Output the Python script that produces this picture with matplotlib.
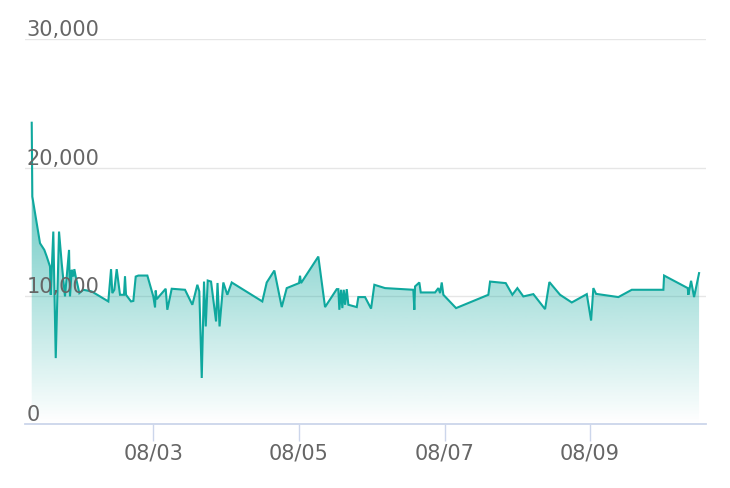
import numpy as np
import pandas as pd
import matplotlib
matplotlib.use('Agg')
import matplotlib.pyplot as plt
import matplotlib.dates as mdates
from matplotlib.colors import to_rgb

# time stamps (month-day hour:minute) and values
times = [
    '08-01 07:55', '08-01 08:07', '08-01 10:39', '08-01 12:04', '08-01 12:52', '08-01 13:57',
    '08-01 14:11', '08-01 15:02', '08-01 15:50', '08-01 16:55', '08-01 17:48', '08-01 18:53',
    '08-01 20:13', '08-01 20:32', '08-01 21:06', '08-01 21:38', '08-01 21:58', '08-01 22:25',
    '08-01 23:37', '08-02 00:55', '08-02 03:41', '08-02 09:10', '08-02 10:04', '08-02 10:29',
    '08-02 11:09', '08-02 11:56', '08-02 13:01', '08-02 14:20', '08-02 14:40', '08-02 15:00',
    '08-02 16:39', '08-02 17:25', '08-02 18:12', '08-02 19:04', '08-02 22:02', '08-03 00:00',
    '08-03 00:34', '08-03 00:47', '08-03 01:07', '08-03 04:05', '08-03 04:37', '08-03 06:04',
    '08-03 10:27', '08-03 12:52', '08-03 14:31', '08-03 15:10', '08-03 15:58', '08-03 16:43',
    '08-03 17:17', '08-03 17:56', '08-03 19:02', '08-03 20:41', '08-03 21:10', '08-03 21:50',
    '08-03 23:05', '08-04 00:24', '08-04 01:51', '08-04 11:56', '08-04 13:23', '08-04 15:54',
    '08-04 18:20', '08-04 19:59', '08-05 00:02', '08-05 00:22', '08-05 00:42', '08-05 06:24',
    '08-05 08:37', '08-05 12:28', '08-05 13:00', '08-05 13:20', '08-05 13:53', '08-05 14:19',
    '08-05 14:47', '08-05 15:13', '08-05 15:46', '08-05 16:18', '08-05 19:04', '08-05 19:35',
    '08-05 21:48', '08-05 23:47', '08-06 00:52', '08-06 04:24', '08-06 13:43', '08-06 14:03',
    '08-06 14:17', '08-06 15:42', '08-06 16:10', '08-06 20:53', '08-06 21:58', '08-06 22:32',
    '08-06 23:05', '08-06 23:37', '08-07 03:48', '08-07 14:27', '08-07 15:01', '08-07 20:11',
    '08-07 22:22', '08-08 00:01', '08-08 01:59', '08-08 05:17', '08-08 09:09', '08-08 10:34',
    '08-08 14:05', '08-08 17:57', '08-08 22:54', '08-09 00:19', '08-09 01:04', '08-09 01:58',
    '08-09 09:19', '08-09 13:44', '08-10 00:09', '08-10 00:23', '08-10 08:11', '08-10 08:23',
    '08-10 09:17', '08-10 10:16', '08-10 11:55',
]
values = [
    23500, 17740, 14100, 13580, 13060, 12280,
    10080, 15010, 5140, 15010, 12550, 9950,
    13580, 9950, 12030, 11500, 12080, 11500,
    10210, 10470, 10340, 9560, 12080, 10210,
    10470, 12080, 10080, 10080, 11500, 10080,
    9560, 9600, 11500, 11580, 11580, 9950,
    9090, 10410, 9740, 10550, 8910, 10550,
    10470, 9300, 10860, 10340, 3590, 11110,
    7610, 11190, 11110, 8000, 11000, 7610,
    11040, 10080, 11040, 9560, 11040, 11970,
    9120, 10600, 10990, 11560, 10990, 13060,
    9120, 10520, 10520, 8910, 10470, 9040,
    10470, 9300, 10520, 9300, 9120, 9900,
    9900, 9000, 10860, 10600, 10470, 8910,
    10730, 11040, 10260, 10260, 10600, 10210,
    11040, 10080, 9040, 10080, 11110, 10990,
    10080, 10600, 9950, 10130, 8960, 11070,
    10080, 9480, 10130, 8070, 10600, 10150,
    9900, 10470, 10470, 11580, 10600, 10080,
    11170, 9900, 11770,
]
y_ticks = [0, 10000, 20000, 30000]
y_tick_labels = ['0', '10,000', '20,000', '30,000']

line_color = '#0fa89e'
label_color = '#666666'
axis_color = '#ccd6eb'
grid_color = '#e6e6e6'

dates = pd.to_datetime(['2023-' + t for t in times])
x = mdates.date2num(dates.to_pydatetime())
y = np.array(values, dtype=float)

fig = plt.figure(figsize=(7.3, 4.88), dpi=100)
ax = fig.add_axes([25 / 730, 1 - 424 / 488, 681 / 730, (424 - 39.4) / 488])

day0 = mdates.date2num(pd.Timestamp('2023-08-01').to_pydatetime())
x0, x1 = day0 + 5.70 / 24, day0 + 230.2 / 24
ax.set_xlim(x0, x1)
ax.set_ylim(0, 30000)

# gradient fill under the line, clipped to the area polygon
fill = ax.fill_between(x, y, 0, facecolor='none', edgecolor='none')
grad = np.zeros((256, 1, 4))
grad[:, 0, :3] = to_rgb(line_color)
grad[:, 0, 3] = np.linspace(1, 0, 256)
im = ax.imshow(grad, extent=[x0, x1, 0, 30000], aspect='auto', origin='upper', zorder=1)
im.set_clip_path(fill.get_paths()[0], transform=ax.transData)

ax.plot(x, y, color=line_color, lw=1.5, zorder=3, solid_joinstyle='miter')

# grid and axes
ax.set_yticks(y_ticks)
ax.set_yticklabels([])
ax.tick_params(axis='y', length=0)
ax.grid(axis='y', color=grid_color, lw=1.0, zorder=0)
ax.set_axisbelow(True)
for s in ['left', 'right', 'top']:
    ax.spines[s].set_visible(False)
ax.spines['bottom'].set_color(axis_color)
ax.spines['bottom'].set_linewidth(1.3)
ax.spines['bottom'].set_zorder(4)

for v, lab in zip(y_ticks, y_tick_labels):
    ax.annotate(lab, xy=(0, v), xycoords=('axes fraction', 'data'), xytext=(1, 2.2),
                textcoords='offset points', ha='left', va='baseline',
                fontsize=15, color=label_color, zorder=5)

ax.xaxis.set_major_locator(mdates.DayLocator(bymonthday=[3, 5, 7, 9]))
ax.xaxis.set_major_formatter(mdates.DateFormatter('%m/%d'))
ax.tick_params(axis='x', direction='out', length=12.5, width=1, color=axis_color,
               labelcolor=label_color, labelsize=15, pad=1.5)

fig.savefig('out.png', dpi=100)
